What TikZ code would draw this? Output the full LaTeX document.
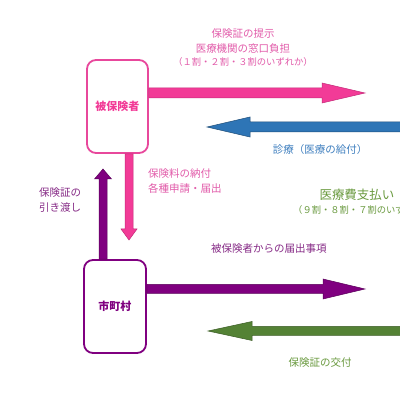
\documentclass[tikz,border=0pt]{standalone}
\usepackage{fontspec}
\setmainfont{Noto Sans CJK JP}
\usetikzlibrary{calc}
\definecolor{pinkA}{HTML}{F23B97}
\definecolor{pinkB}{HTML}{C42A78}
\definecolor{pinkT}{HTML}{E25CAA}
\definecolor{pinkBox}{HTML}{E8489C}
\definecolor{blueA}{HTML}{2E75B6}
\definecolor{blueB}{HTML}{1F4E79}
\definecolor{blueT}{HTML}{3F7FBF}
\definecolor{purpA}{HTML}{800080}
\definecolor{purpB}{HTML}{5A005A}
\definecolor{purpT}{HTML}{862A86}
\definecolor{greenA}{HTML}{548235}
\definecolor{greenB}{HTML}{3B5C25}
\definecolor{greenT}{HTML}{6A9A3F}
\newcommand\fatarrow[6]{%
  \path (#2) coordinate (fa-t) ($(#2)!#5!(#1)$) coordinate (fa-b);
  \draw[#6] ($(#1)!#3!90:(fa-t)$) -- ($(fa-b)!#3!90:(fa-t)$) -- ($(fa-b)!#4!90:(fa-t)$)
    -- (fa-t) -- ($(fa-b)!#4!-90:(fa-t)$) -- ($(fa-b)!#3!-90:(fa-t)$)
    -- ($(#1)!#3!-90:(fa-t)$) -- cycle;}
\tikzset{
  party/.style={draw, line width=1.8pt, rounded corners=9pt, fill=white,
    minimum width=#1, minimum height=93pt, inner sep=0pt, font=\bfseries\fontsize{11}{13}\selectfont},
  lbl/.style={inner sep=0pt, font=\fontsize{10.5}{12}\selectfont},
  small/.style={inner sep=0pt, font=\fontsize{9.3}{11}\selectfont},
}
\begin{document}
\begin{tikzpicture}[x=1pt,y=1pt]
\useasboundingbox (0,0) rectangle (400,400);
\clip (0,0) rectangle (400,400);
\fill[white] (0,0) rectangle (400,400);
% boxes
\node[party=61pt, draw=pinkBox, text=pinkA] (pb) at (117.5,293.5) {被保険者};
\node[party=62pt, draw=purpA, text=purpA] (mc) at (115,93.5) {市町村};
% coordinates
\coordinate (pS) at (pb.east |- 0,307);
\coordinate (pE) at (365,307);
\coordinate (bS) at (410,273);
\coordinate (bE) at (207,273);
\coordinate (dS) at (129,0 |- pb.south);
\coordinate (dE) at (129,160);
\coordinate (uS) at (103,0 |- mc.north);
\coordinate (uE) at (103,231);
\coordinate (vS) at (mc.east |- 0,111);
\coordinate (vE) at (365,111);
\coordinate (gS) at (410,69);
\coordinate (gE) at (208,69);
% arrows
\fatarrow{pS}{pE}{5pt}{10pt}{43pt}{fill=pinkA, draw=pinkB, line width=0.5pt}
\fatarrow{bS}{bE}{5pt}{10pt}{43pt}{fill=blueA, draw=blueB, line width=0.5pt}
\fatarrow{dS}{dE}{4pt}{8pt}{11pt}{fill=pinkA, draw=pinkB, line width=0.5pt}
\fatarrow{uS}{uE}{4pt}{8.5pt}{10pt}{fill=purpA, draw=purpB, line width=0.5pt}
\fatarrow{vS}{vE}{4.5pt}{10pt}{42pt}{fill=purpA, draw=purpB, line width=0.5pt}
\fatarrow{gS}{gE}{4.5pt}{9.5pt}{44pt}{fill=greenA, draw=greenB, line width=0.5pt}
% texts
\node[lbl, text=pinkT] (t1) at (243,366) {保険証の提示};
\node[lbl, text=pinkT] (t2) at (243,351) {医療機関の窓口負担};
\node[small, text=pinkT] (t3) at (243,338) {（１割・２割・３割のいずれか）};
\node[lbl, text=blueT] (t4) at (320,250) {診療（医療の給付）};
\node[lbl, text=pinkT, anchor=west] (t5) at (148,226) {保険料の納付};
\node[lbl, text=pinkT, anchor=west] (t6) at (148,212) {各種申請・届出};
\node[lbl, text=purpT, anchor=west] (t7) at (39,207) {保険証の};
\node[lbl, text=purpT, anchor=west] (t8) at (39,192) {引き渡し};
\node[inner sep=0pt, font=\fontsize{12.5}{14}\selectfont, text=greenT] (t9) at (357,205) {医療費支払い};
\node[small, text=greenT, anchor=west] (t10) at (293,190) {（９割・８割・７割のいずれか）};
\node[lbl, text=purpT] (t11) at (269,151) {被保険者からの届出事項};
\node[lbl, text=greenT] (t12) at (320,37) {保険証の交付};
\end{tikzpicture}
\end{document}
